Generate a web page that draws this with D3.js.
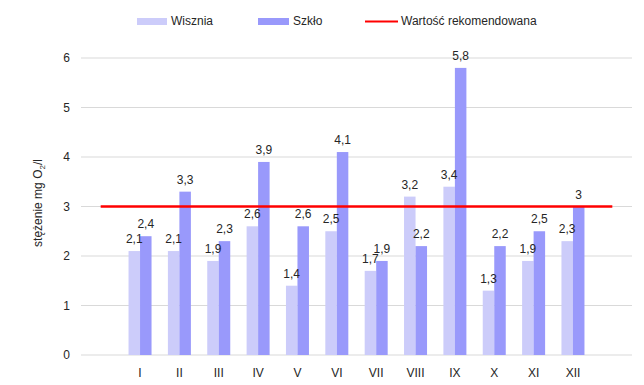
<!DOCTYPE html>
<html>
<head>
<meta charset="utf-8">
<script src="https://cdn.jsdelivr.net/npm/d3@7"></script>
<style>
  body { margin: 0; background: #fff; }
  text { font-family: "Liberation Sans", Arial, sans-serif; fill: #262626; }
</style>
</head>
<body>
<div id="chart"></div>
<script>
// data
var months = ["I", "II", "III", "IV", "V", "VI", "VII", "VIII", "IX", "X", "XI", "XII"];
var wisznia = [2.1, 2.1, 1.9, 2.6, 1.4, 2.5, 1.7, 3.2, 3.4, 1.3, 1.9, 2.3];
var szklo = [2.4, 3.3, 2.3, 3.9, 2.6, 4.1, 1.9, 2.2, 5.8, 2.2, 2.5, 3];
var recommended = 3;
var yTicks = [0, 1, 2, 3, 4, 5, 6];

var width = 644, height = 385;
var margin = {top: 58, right: 12, bottom: 30, left: 81};
var innerW = width - margin.left - margin.right,
	innerH = height - margin.top - margin.bottom;

var pl = d3.formatLocale({decimal: ",", thousands: " ", grouping: [3], currency: ["", " zł"]});
var fmt = function(v) { return pl.format("~g")(v); };

// the category axis has an empty slot at each end, the red line runs across them
var slots = ["_start"].concat(months, ["_end"]);
var x = d3.scaleBand().domain(slots).range([0, innerW]);
var y = d3.scaleLinear().domain([0, 6]).range([innerH, 0]);
var barW = 11.5;

var svg = d3.select("#chart")
	.append("svg")
	.attr("width", width)
	.attr("height", height);

var g = svg.append("g")
	.attr("transform", "translate(" + margin.left + "," + margin.top + ")");

// gridlines
g.selectAll(null)
	.data(yTicks)
	.enter()
	.append("line")
	.attr("x1", 0)
	.attr("x2", innerW)
	.attr("y1", function(d) { return y(d); })
	.attr("y2", function(d) { return y(d); })
	.attr("stroke", "#d9d9d9")
	.attr("stroke-width", 1);

// y tick labels
g.selectAll(null)
	.data(yTicks)
	.enter()
	.append("text")
	.attr("x", -11)
	.attr("y", function(d) { return y(d) + 4; })
	.attr("text-anchor", "end")
	.style("font-size", "12px")
	.text(function(d) { return d; });

// x labels
g.selectAll(null)
	.data(months)
	.enter()
	.append("text")
	.attr("x", function(d) { return x(d) + x.bandwidth() / 2; })
	.attr("y", innerH + 22)
	.attr("text-anchor", "middle")
	.style("font-size", "12px")
	.text(function(d) { return d; });

// bars
var series = [
	{name: "Wisznia", values: wisznia, color: "#ccccfa", off: -barW},
	{name: "Szkło", values: szklo, color: "#9999fb", off: 0}
];

series.forEach(function(s) {
	g.selectAll(null)
		.data(s.values)
		.enter()
		.append("rect")
		.attr("x", function(d, i) { return x(months[i]) + x.bandwidth() / 2 + s.off; })
		.attr("y", function(d) { return y(d); })
		.attr("width", barW)
		.attr("height", function(d) { return innerH - y(d); })
		.attr("fill", s.color);
});

// recommended value line
var lineData = slots.map(function(d) { return {k: d, v: recommended}; });
g.append("path")
	.datum(lineData)
	.attr("fill", "none")
	.attr("stroke", "#ff0000")
	.attr("stroke-width", 2.5)
	.attr("d", d3.line()
		.x(function(d) { return x(d.k) + x.bandwidth() / 2; })
		.y(function(d) { return y(d.v); }));

// value labels
series.forEach(function(s) {
	g.selectAll(null)
		.data(s.values)
		.enter()
		.append("text")
		.attr("x", function(d, i) { return x(months[i]) + x.bandwidth() / 2 + s.off + barW / 2; })
		.attr("y", function(d) { return y(d) - 8; })
		.attr("text-anchor", "middle")
		.style("font-size", "12px")
		.text(function(d) { return fmt(d); });
});

// y axis title
var yt = svg.append("text")
	.attr("transform", "translate(42,203) rotate(-90)")
	.attr("text-anchor", "middle")
	.style("font-size", "12px");
yt.append("tspan").text("stężenie mg O");
yt.append("tspan").attr("dy", 3).style("font-size", "8px").text("2");
yt.append("tspan").attr("dy", -3).text("/l");

// legend
var legend = svg.append("g").attr("transform", "translate(0,21)");
legend.append("rect").attr("x", 137).attr("y", -3).attr("width", 30).attr("height", 7).attr("fill", "#ccccfa");
legend.append("text").attr("x", 171).attr("y", 4).style("font-size", "12px").text("Wisznia");
legend.append("rect").attr("x", 258).attr("y", -3).attr("width", 31).attr("height", 7).attr("fill", "#9999fb");
legend.append("text").attr("x", 293).attr("y", 4).style("font-size", "12px").text("Szkło");
legend.append("line").attr("x1", 365).attr("x2", 398).attr("y1", 0.5).attr("y2", 0.5)
	.attr("stroke", "#ff0000").attr("stroke-width", 2);
legend.append("text").attr("x", 401).attr("y", 4).style("font-size", "12px").text("Wartość rekomendowana");
</script>
</body>
</html>
